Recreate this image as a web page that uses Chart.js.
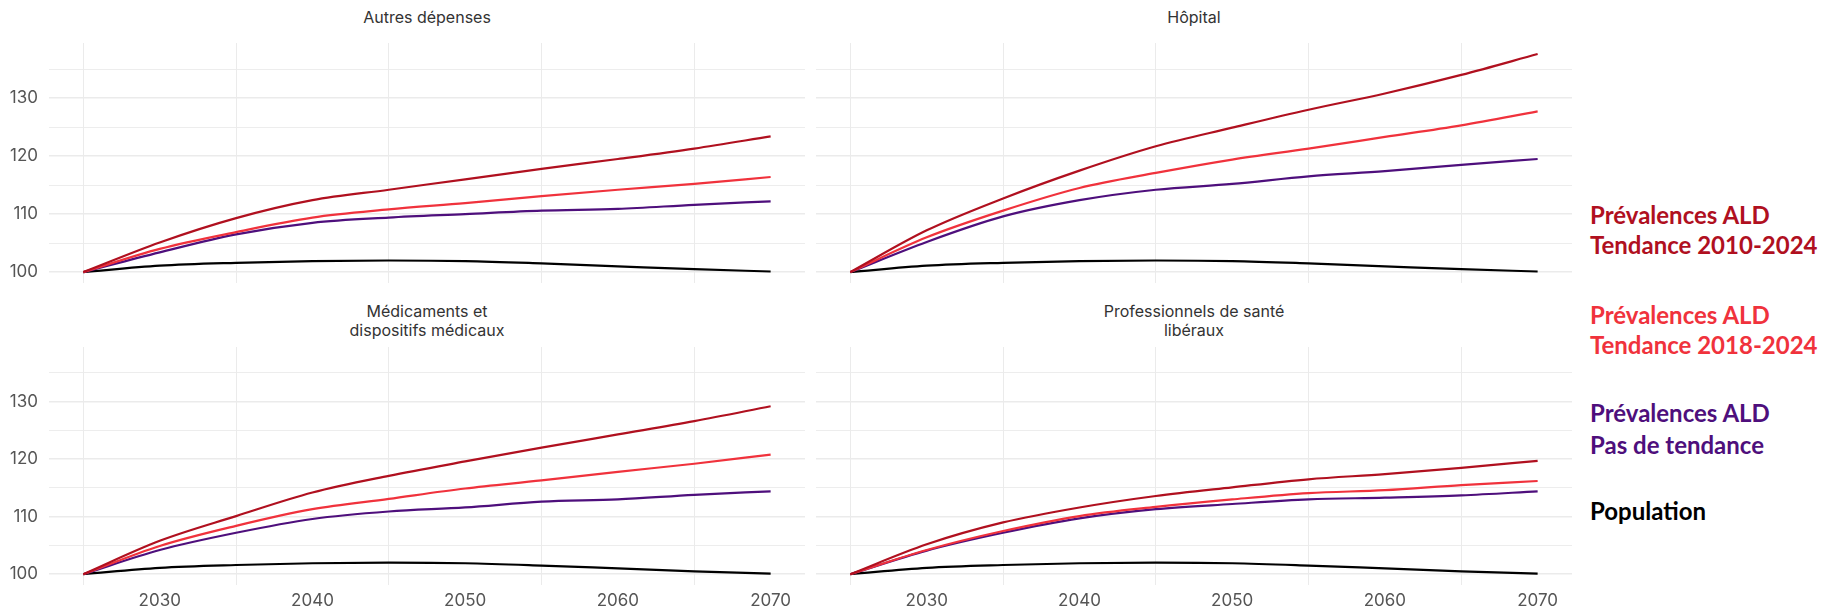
<!DOCTYPE html>
<html>
<head>
<meta charset="utf-8">
<script src="https://cdn.jsdelivr.net/npm/chart.js@4.4.0/dist/chart.umd.min.js"></script>
<style>
    body { margin: 0; background: #fff; width: 1821px; height: 610px; position: relative; overflow: hidden; font-family: 'Inter', sans-serif; }
    .panel { position: absolute; }
    .title { position: absolute; text-align: center; color: #333; font-size: 16px; line-height: 19px; }
    .leg { position: absolute; left: 1590px; font-family: 'Lato', sans-serif; font-weight: 700; font-size: 24px; line-height: 30px; white-space: nowrap; }
</style>
</head>
<body>
<div class="title" style="left:49px; width:756px; top:8px;">Autres dépenses</div>
<div class="title" style="left:816px; width:756px; top:8px;">Hôpital</div>
<div class="title" style="left:49px; width:756px; top:302px;">Médicaments et<br>dispositifs médicaux</div>
<div class="title" style="left:816px; width:756px; top:302px;">Professionnels de santé<br>libéraux</div>

<div class="panel" style="left:0px; top:43px; width:805px; height:240px;"><canvas id="c1"></canvas></div>
<div class="panel" style="left:816px; top:43px; width:756px; height:240px;"><canvas id="c2"></canvas></div>
<div class="panel" style="left:0px; top:347px; width:805px; height:263px;"><canvas id="c3"></canvas></div>
<div class="panel" style="left:816px; top:347px; width:756px; height:263px;"><canvas id="c4"></canvas></div>

<div class="leg" style="top:200px; color:#b0101f;">Prévalences ALD</div>
<div class="leg" style="top:230px; color:#b0101f;">Tendance 2010-2024</div>
<div class="leg" style="top:300px; color:#f0323c;">Prévalences ALD</div>
<div class="leg" style="top:330px; color:#f0323c;">Tendance 2018-2024</div>
<div class="leg" style="top:398px; color:#4e0f7c;">Prévalences ALD</div>
<div class="leg" style="top:430px; color:#4e0f7c;">Pas de tendance</div>
<div class="leg" style="top:496px; color:#000;">Population</div>

<script>
const years = [2025, 2030, 2035, 2040, 2045, 2050, 2055, 2060, 2065, 2070];

const population = [100, 101.1, 101.6, 101.9, 102.0, 101.9, 101.5, 101.0, 100.5, 100.1];

const autresTendance2010 = [100, 105.1, 109.3, 112.4, 114.2, 116.0, 117.8, 119.5, 121.3, 123.4];
const autresTendance2018 = [100, 104.0, 106.9, 109.4, 110.8, 111.9, 113.1, 114.2, 115.2, 116.4];
const autresSansTendance = [100, 103.4, 106.5, 108.5, 109.4, 110.0, 110.6, 110.9, 111.6, 112.2];

const hopitalTendance2010 = [100, 107.2, 112.7, 117.5, 121.7, 124.9, 128.0, 130.8, 134.0, 137.6];
const hopitalTendance2018 = [100, 106.0, 110.6, 114.5, 117.1, 119.4, 121.3, 123.3, 125.3, 127.7];
const hopitalSansTendance = [100, 105.2, 109.6, 112.4, 114.2, 115.2, 116.5, 117.4, 118.5, 119.5];

const medicTendance2010 = [100, 105.8, 110.1, 114.2, 117.1, 119.6, 122.0, 124.3, 126.6, 129.2];
const medicTendance2018 = [100, 104.9, 108.4, 111.3, 113.1, 114.9, 116.3, 117.8, 119.2, 120.8];
const medicSansTendance = [100, 104.2, 107.2, 109.6, 110.9, 111.6, 112.6, 113.0, 113.8, 114.4];

const prosTendance2010 = [100, 105.2, 109.0, 111.6, 113.6, 115.1, 116.5, 117.4, 118.5, 119.7];
const prosTendance2018 = [100, 104.2, 107.5, 110.1, 111.7, 113.0, 114.1, 114.6, 115.5, 116.2];
const prosSansTendance = [100, 104.1, 107.2, 109.7, 111.3, 112.2, 113.0, 113.3, 113.7, 114.4];

const yTicks = [100, 105, 110, 115, 120, 125, 130, 135];
const xTicks = [2025, 2030, 2035, 2040, 2045, 2050, 2055, 2060, 2065, 2070];

const colors = ['#b0101f', '#f0323c', '#4e0f7c', '#000000'];

function toPoints(arr) {
    return arr.map((v, i) => ({ x: years[i], y: v }));
}

function makeChart(id, series, showY, showX) {
    const ctx = document.getElementById(id).getContext('2d');
    return new Chart(ctx, {
        type: 'line',
        data: {
            datasets: series.map((s, i) => ({
                data: toPoints(s),
                borderColor: colors[i],
                borderWidth: 2.2,
                pointRadius: 0,
                fill: false,
                cubicInterpolationMode: 'monotone'
            }))
        },
        options: {
            responsive: true,
            maintainAspectRatio: false,
            animation: false,
            layout: { padding: 0 },
            plugins: { legend: { display: false }, tooltip: { enabled: false } },
            scales: {
                x: {
                    type: 'linear',
                    min: 2022.75,
                    max: 2072.25,
                    afterBuildTicks: axis => { axis.ticks = xTicks.map(v => ({ value: v })); },
                    afterFit: axis => {
                        axis.height = showX ? 25 : 0;
                        axis.paddingLeft = 0; axis.paddingRight = 0;
                        axis.paddingTop = 0; axis.paddingBottom = 0;
                    },
                    border: { display: false },
                    grid: {
                        drawTicks: false,
                        color: c => (c.tick && c.tick.value % 10 === 5) ? '#ebebeb' : 'rgba(0,0,0,0)',
                        lineWidth: 1
                    },
                    ticks: {
                        display: showX,
                        padding: 6,
                        maxRotation: 0,
                        autoSkip: false,
                        color: '#555',
                        font: { family: 'Inter', size: 17 },
                        callback: v => (v % 10 === 0 ? String(v) : '')
                    }
                },
                y: {
                    min: 98.12,
                    max: 139.5,
                    afterBuildTicks: axis => { axis.ticks = yTicks.map(v => ({ value: v })); },
                    afterFit: axis => {
                        axis.width = showY ? 49 : 0;
                        axis.paddingLeft = 0; axis.paddingRight = 0;
                        axis.paddingTop = 0; axis.paddingBottom = 0;
                    },
                    border: { display: false },
                    grid: {
                        drawTicks: false,
                        color: '#ebebeb',
                        lineWidth: c => (c.tick && c.tick.value % 10 === 0) ? 1.6 : 0.9
                    },
                    ticks: {
                        display: showY,
                        padding: 11,
                        color: '#555',
                        font: { family: 'Inter', size: 17 },
                        callback: v => (v % 10 === 0 ? String(v) : '')
                    }
                }
            }
        }
    });
}

makeChart('c1', [autresTendance2010, autresTendance2018, autresSansTendance, population], true, false);
makeChart('c2', [hopitalTendance2010, hopitalTendance2018, hopitalSansTendance, population], false, false);
makeChart('c3', [medicTendance2010, medicTendance2018, medicSansTendance, population], true, true);
makeChart('c4', [prosTendance2010, prosTendance2018, prosSansTendance, population], false, true);
</script>
</body>
</html>
